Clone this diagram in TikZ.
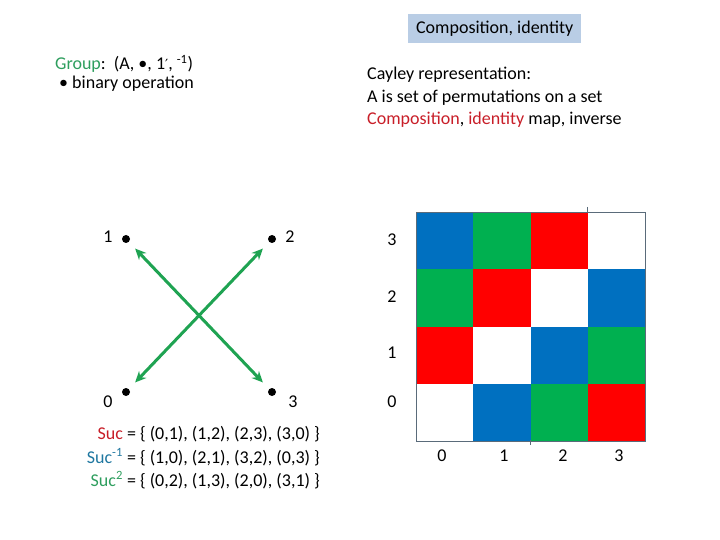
\documentclass[tikz,border=0pt]{standalone}
\usepackage{fontspec}
\setmainfont{Carlito}
\newfontfamily\symfont{DejaVu Sans}
\usetikzlibrary{arrows.meta}
\definecolor{titlefill}{HTML}{B9CDE5}
\definecolor{cblue}{HTML}{0070C0}
\definecolor{cgreen}{HTML}{00B050}
\definecolor{cred}{HTML}{FF0000}
\definecolor{darkred}{HTML}{C81E28}
\definecolor{tealblue}{HTML}{1F77A0}
\definecolor{txtgreen}{HTML}{2E9E5E}
\definecolor{arrowgreen}{HTML}{1FA352}
\definecolor{gridgray}{HTML}{5A6B7A}
\tikzset{
  txt/.style={inner sep=0pt, font=\fontsize{18bp}{21bp}\selectfont},
  dot/.style={circle, fill=black, inner sep=0pt, minimum size=8bp},
  link/.style={arrowgreen, line width=3bp, {Stealth[length=11bp,width=10bp]}-{Stealth[length=11bp,width=10bp]}, shorten <=9bp, shorten >=9bp},
}
\begin{document}
\begin{tikzpicture}[x=1bp,y=-1bp]
\useasboundingbox (0,0) rectangle (720,540);
% title
\node[txt, fill=titlefill, minimum width=173bp, minimum height=29bp, anchor=north west] (title) at (408,14) {Composition, identity};
% group text
\node[txt, anchor=base west] (grp) at (55,70) {\textcolor{txtgreen}{Group}:\ \ (A, \textbullet, 1{\symfont\fontsize{14bp}{16bp}\selectfont ′}, \textsuperscript{-1})};
\node[txt, anchor=base west] (bin) at (59,89) {\textbullet\ binary operation};
% cayley text
\node[txt, anchor=base west] (c1) at (367,80) {Cayley representation:};
\node[txt, anchor=base west] (c2) at (367,103) {A is set of permutations on a set};
\node[txt, anchor=base west] (c3) at (367,125) {\textcolor{darkred}{Composition}, \textcolor{darkred}{identity} map, inverse};
% graph
\node[dot] (n1) at (126,239) {};
\node[dot] (n2) at (272,239) {};
\node[dot] (n0) at (126,392) {};
\node[dot] (n3) at (272,392) {};
\node[txt] (l1) at (108,237) {1};
\node[txt] (l2) at (290,237) {2};
\node[txt] (l0) at (108,402) {0};
\node[txt] (l3) at (293,402) {3};
\draw[link] (n1) -- (n3);
\draw[link] (n0) -- (n2);
% suc sets
\node[txt, anchor=base east] (s1) at (320,439) {\textcolor{darkred}{Suc} = \{ (0,1), (1,2), (2,3), (3,0) \}};
\node[txt, anchor=base east] (s2) at (320,463) {\textcolor{tealblue}{Suc\textsuperscript{-1}} = \{ (1,0), (2,1), (3,2), (0,3) \}};
\node[txt, anchor=base east] (s3) at (320,486) {\textcolor{txtgreen}{Suc\textsuperscript{2}} = \{ (0,2), (1,3), (2,0), (3,1) \}};
% grid
\def\gx{416}\def\gy{212}\def\gs{57.25}
\foreach \r/\c/\col in {0/0/cblue,0/1/cgreen,0/2/cred,
                        1/0/cgreen,1/1/cred,1/3/cblue,
                        2/0/cred,2/2/cblue,2/3/cgreen,
                        3/1/cblue,3/2/cgreen,3/3/cred}{
  \fill[\col] ({\gx+\c*\gs},{\gy+\r*\gs}) rectangle ++(\gs,\gs);
}
\draw[gridgray, line width=0.8bp] (\gx,\gy) rectangle ({\gx+4*\gs},{\gy+4*\gs});
\draw[gridgray, line width=0.8bp] (587,207) -- (587,212);
\draw[gridgray, line width=0.8bp] (530,440) -- (530,445);
% axis labels
\node[txt] (r3) at (392,240) {3};
\node[txt] (r2) at (392,297) {2};
\node[txt] (r1) at (392,353) {1};
\node[txt] (r0) at (392,402) {0};
\node[txt] (k0) at (442,456) {0};
\node[txt] (k1) at (504,456) {1};
\node[txt] (k2) at (563,456) {2};
\node[txt] (k3) at (619,456) {3};
\end{tikzpicture}
\end{document}
